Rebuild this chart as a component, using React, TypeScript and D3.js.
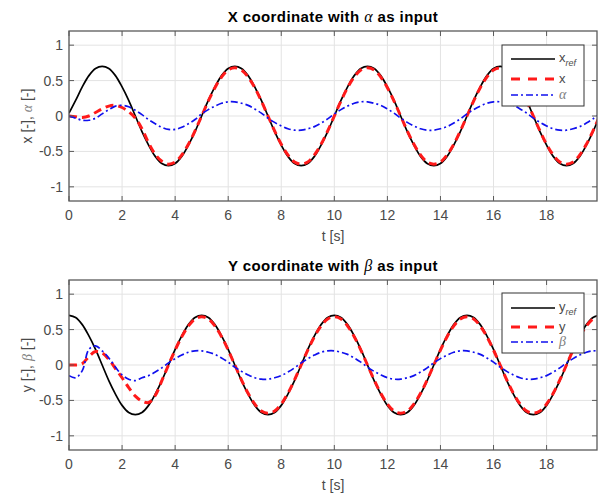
import React from "react";
import * as d3 from "d3";

// time grid [s]
const T = [
  0, 0.25, 0.5, 0.75, 1, 1.25, 1.5, 1.75, 2, 2.25, 2.5, 2.75, 3, 3.25, 3.5, 3.75, 4, 4.25, 4.5, 4.75,
  5, 5.25, 5.5, 5.75, 6, 6.25, 6.5, 6.75, 7, 7.25, 7.5, 7.75, 8, 8.25, 8.5, 8.75, 9, 9.25, 9.5, 9.75,
  10, 10.25, 10.5, 10.75, 11, 11.25, 11.5, 11.75, 12, 12.25, 12.5, 12.75, 13, 13.25, 13.5, 13.75, 14, 14.25, 14.5, 14.75,
  15, 15.25, 15.5, 15.75, 16, 16.25, 16.5, 16.75, 17, 17.25, 17.5, 17.75, 18, 18.25, 18.5, 18.75, 19, 19.25, 19.5, 19.75,
  20,
];

// top panel
const xRef = [
  0.04, 0.22, 0.41, 0.57, 0.67, 0.7, 0.67, 0.57, 0.41, 0.22, 0, -0.22, -0.41, -0.57, -0.67, -0.7, -0.67, -0.57, -0.41, -0.22,
  0, 0.22, 0.41, 0.57, 0.67, 0.7, 0.67, 0.57, 0.41, 0.22, 0, -0.22, -0.41, -0.57, -0.67, -0.7, -0.67, -0.57, -0.41, -0.22,
  0, 0.22, 0.41, 0.57, 0.67, 0.7, 0.67, 0.57, 0.41, 0.22, 0, -0.22, -0.41, -0.57, -0.67, -0.7, -0.67, -0.57, -0.41, -0.22,
  0, 0.22, 0.41, 0.57, 0.67, 0.7, 0.67, 0.57, 0.41, 0.22, 0, -0.22, -0.41, -0.57, -0.67, -0.7, -0.67, -0.57, -0.41, -0.22,
  0,
];
const xOut = [
  0, -0.01, -0.02, 0, 0.05, 0.1, 0.14, 0.15, 0.12, 0.06, -0.03, -0.18, -0.38, -0.54, -0.64, -0.68, -0.65, -0.55, -0.4, -0.21,
  0, 0.21, 0.4, 0.55, 0.65, 0.68, 0.65, 0.55, 0.4, 0.21, 0, -0.21, -0.4, -0.55, -0.65, -0.68, -0.65, -0.55, -0.4, -0.21,
  0, 0.21, 0.4, 0.55, 0.65, 0.68, 0.65, 0.55, 0.4, 0.21, 0, -0.21, -0.4, -0.55, -0.65, -0.68, -0.65, -0.55, -0.4, -0.21,
  0, 0.21, 0.4, 0.55, 0.65, 0.68, 0.65, 0.55, 0.4, 0.21, 0, -0.21, -0.4, -0.55, -0.65, -0.68, -0.65, -0.55, -0.4, -0.21,
  0,
];
const alpha = [
  0, -0.03, -0.06, -0.06, -0.03, 0.03, 0.09, 0.14, 0.15, 0.13, 0.08, 0.02, -0.05, -0.11, -0.16, -0.19, -0.19, -0.16, -0.11, -0.05,
  0.03, 0.09, 0.14, 0.18, 0.2, 0.2, 0.18, 0.15, 0.1, 0.04, -0.03, -0.09, -0.14, -0.18, -0.2, -0.2, -0.18, -0.15, -0.1, -0.04,
  0.03, 0.09, 0.14, 0.18, 0.2, 0.2, 0.18, 0.15, 0.1, 0.04, -0.03, -0.09, -0.14, -0.18, -0.2, -0.2, -0.18, -0.15, -0.1, -0.04,
  0.03, 0.09, 0.14, 0.18, 0.2, 0.2, 0.18, 0.15, 0.1, 0.04, -0.03, -0.09, -0.14, -0.18, -0.2, -0.2, -0.18, -0.15, -0.1, -0.04,
  0.03,
];

// bottom panel
const yRef = [
  0.7, 0.67, 0.57, 0.41, 0.22, 0, -0.22, -0.41, -0.57, -0.67, -0.7, -0.67, -0.57, -0.41, -0.22, 0, 0.22, 0.41, 0.57, 0.67,
  0.7, 0.67, 0.57, 0.41, 0.22, 0, -0.22, -0.41, -0.57, -0.67, -0.7, -0.67, -0.57, -0.41, -0.22, 0, 0.22, 0.41, 0.57, 0.67,
  0.7, 0.67, 0.57, 0.41, 0.22, 0, -0.22, -0.41, -0.57, -0.67, -0.7, -0.67, -0.57, -0.41, -0.22, 0, 0.22, 0.41, 0.57, 0.67,
  0.7, 0.67, 0.57, 0.41, 0.22, 0, -0.22, -0.41, -0.57, -0.67, -0.7, -0.67, -0.57, -0.41, -0.22, 0, 0.22, 0.41, 0.57, 0.67,
  0.7,
];
const yOut = [
  0, 0, 0.02, 0.12, 0.19, 0.17, 0.08, -0.05, -0.18, -0.32, -0.44, -0.51, -0.53, -0.43, -0.22, 0, 0.21, 0.4, 0.55, 0.65,
  0.68, 0.65, 0.55, 0.4, 0.21, 0, -0.21, -0.4, -0.55, -0.65, -0.68, -0.65, -0.55, -0.4, -0.21, 0, 0.21, 0.4, 0.55, 0.65,
  0.68, 0.65, 0.55, 0.4, 0.21, 0, -0.21, -0.4, -0.55, -0.65, -0.68, -0.65, -0.55, -0.4, -0.21, 0, 0.21, 0.4, 0.55, 0.65,
  0.68, 0.65, 0.55, 0.4, 0.21, 0, -0.21, -0.4, -0.55, -0.65, -0.68, -0.65, -0.55, -0.4, -0.21, 0, 0.21, 0.4, 0.55, 0.65,
  0.68,
];
const beta = [
  -0.15, -0.18, -0.08, 0.22, 0.27, 0.2, 0.1, -0.03, -0.14, -0.2, -0.22, -0.18, -0.15, -0.1, -0.04, 0.03, 0.09, 0.14, 0.18, 0.2,
  0.2, 0.18, 0.15, 0.1, 0.04, -0.03, -0.09, -0.14, -0.18, -0.2, -0.2, -0.18, -0.15, -0.1, -0.04, 0.03, 0.09, 0.14, 0.18, 0.2,
  0.2, 0.18, 0.15, 0.1, 0.04, -0.03, -0.09, -0.14, -0.18, -0.2, -0.2, -0.18, -0.15, -0.1, -0.04, 0.03, 0.09, 0.14, 0.18, 0.2,
  0.2, 0.18, 0.15, 0.1, 0.04, -0.03, -0.09, -0.14, -0.18, -0.2, -0.2, -0.18, -0.15, -0.1, -0.04, 0.03, 0.09, 0.14, 0.18, 0.2,
  0.2,
];

const xTicks = [0, 2, 4, 6, 8, 10, 12, 14, 16, 18];
const yTicks = [-1, -0.5, 0, 0.5, 1];
const xDomain = [0, 19.9];
const yDomain = [-1.2, 1.2];

const W = 599;
const H = 493;
const FONT = "'Liberation Sans', Arial, Helvetica, sans-serif";
const GREEK = "'Liberation Serif', 'Times New Roman', serif";

type PanelProps = {
  id: string;
  top: number;
  bottom: number;
  titleA: string;
  greek: string;
  name: string;
  ref1: number[];
  out: number[];
  inp: number[];
  legendTop: number;
  legendBottom: number;
  rows: number[];
};

function Panel(p: PanelProps) {
  const left = 69;
  const right = 597;
  const x = d3.scaleLinear().domain(xDomain).range([left, right]);
  const y = d3.scaleLinear().domain(yDomain).range([p.bottom, p.top]);
  const line = (vals: number[]) =>
    d3
      .line<number>()
      .x((_, i) => x(T[i]))
      .y((v) => y(v))
      .curve(d3.curveCatmullRom.alpha(0.5))(vals) || "";
  const midX = (left + right) / 2;
  const midY = (p.top + p.bottom) / 2;
  const tickLen = 5;
  const axisCol = "#5a5a5a";
  const txtCol = "#4a4a4a";
  const lgL = 502;
  const lgR = 584;
  return (
    <g>
      <defs>
        <clipPath id={"clip" + p.id}>
          <rect x={left} y={p.top} width={right - left} height={p.bottom - p.top} />
        </clipPath>
      </defs>
      <rect x={left} y={p.top} width={right - left} height={p.bottom - p.top} fill="#fff" />
      {xTicks.map((t) => (
        <line key={"gx" + t} x1={x(t)} x2={x(t)} y1={p.top} y2={p.bottom} stroke="#e3e3e3" strokeWidth={1} />
      ))}
      {yTicks.map((t) => (
        <line key={"gy" + t} x1={left} x2={right} y1={y(t)} y2={y(t)} stroke="#e3e3e3" strokeWidth={1} />
      ))}
      <g clipPath={`url(#clip${p.id})`}>
        <path d={line(p.ref1)} fill="none" stroke="#000" strokeWidth={1.7} />
        <path d={line(p.out)} fill="none" stroke="#ff1a1a" strokeWidth={3} strokeDasharray="8,5" />
        <path d={line(p.inp)} fill="none" stroke="#1010ee" strokeWidth={1.7} strokeDasharray="7,3,2,3" />
      </g>
      <rect x={left} y={p.top} width={right - left} height={p.bottom - p.top} fill="none" stroke={axisCol} strokeWidth={1.3} />
      {xTicks.map((t) => (
        <g key={"tx" + t}>
          <line x1={x(t)} x2={x(t)} y1={p.bottom} y2={p.bottom - tickLen} stroke={axisCol} />
          <line x1={x(t)} x2={x(t)} y1={p.top} y2={p.top + tickLen} stroke={axisCol} />
          <text x={x(t)} y={p.bottom + 19} textAnchor="middle" fontSize={14} fontFamily={FONT} fill={txtCol}>
            {t}
          </text>
        </g>
      ))}
      {yTicks.map((t) => (
        <g key={"ty" + t}>
          <line x1={left} x2={left + tickLen} y1={y(t)} y2={y(t)} stroke={axisCol} />
          <line x1={right} x2={right - tickLen} y1={y(t)} y2={y(t)} stroke={axisCol} />
          <text x={left - 6} y={y(t) + 5} textAnchor="end" fontSize={14} fontFamily={FONT} fill={txtCol}>
            {t}
          </text>
        </g>
      ))}
      <text x={midX} y={p.bottom + 40} textAnchor="middle" fontSize={14} fontFamily={FONT} fill={txtCol}>
        t [s]
      </text>
      <text
        transform={`translate(32,${midY}) rotate(-90)`}
        textAnchor="middle"
        fontSize={14}
        fontFamily={FONT}
        fill={txtCol}
      >
        {p.name} [-],{" "}
        <tspan fontFamily={GREEK} fontStyle="italic" fill="#808080">
          {p.greek}
        </tspan>{" "}
        [-]
      </text>
      <text
        x={midX}
        y={p.top - 9}
        textAnchor="middle"
        fontSize={15}
        fontWeight="bold"
        fontFamily={FONT}
        fill="#000"
        letterSpacing={0.4}
      >
        {p.titleA} coordinate with{" "}
        <tspan fontFamily={GREEK} fontStyle="italic" fontWeight="normal" fontSize={16}>
          {p.greek}
        </tspan>{" "}
        as input
      </text>
      <rect x={lgL} y={p.legendTop} width={lgR - lgL} height={p.legendBottom - p.legendTop} fill="#fff" stroke="#333" strokeWidth={1} />
      <line x1={511} x2={555} y1={p.rows[0]} y2={p.rows[0]} stroke="#000" strokeWidth={1.7} />
      <line x1={511} x2={555} y1={p.rows[1]} y2={p.rows[1]} stroke="#ff1a1a" strokeWidth={3} strokeDasharray="9,8" />
      <line x1={511} x2={555} y1={p.rows[2]} y2={p.rows[2]} stroke="#1010ee" strokeWidth={1.7} strokeDasharray="7,3,2,3" />
      <text x={559} y={p.rows[0] + 3} fontSize={13} fontFamily={FONT} fill={txtCol}>
        {p.name}
        <tspan dy={4} fontSize={9} fontStyle="italic">
          ref
        </tspan>
      </text>
      <text x={559} y={p.rows[1] + 4} fontSize={13} fontFamily={FONT} fill={txtCol}>
        {p.name}
      </text>
      <text x={559} y={p.rows[2] + 4} fontSize={14} fontFamily={GREEK} fontStyle="italic" fill="#808080">
        {p.greek}
      </text>
    </g>
  );
}

export default function App() {
  return (
    <svg
      width={W}
      height={H}
      viewBox={`0 0 ${W} ${H}`}
      style={{ position: "absolute", left: 0, top: 0, display: "block", background: "#fff" }}
    >
      <rect width={W} height={H} fill="#fff" />
      <Panel
        id="a"
        top={31}
        bottom={201}
        titleA="X"
        greek="α"
        name="x"
        ref1={xRef}
        out={xOut}
        inp={alpha}
        legendTop={45}
        legendBottom={106}
        rows={[59, 79, 95]}
      />
      <Panel
        id="b"
        top={280}
        bottom={450}
        titleA="Y"
        greek="β"
        name="y"
        ref1={yRef}
        out={yOut}
        inp={beta}
        legendTop={293}
        legendBottom={353}
        rows={[308, 327, 342]}
      />
    </svg>
  );
}
